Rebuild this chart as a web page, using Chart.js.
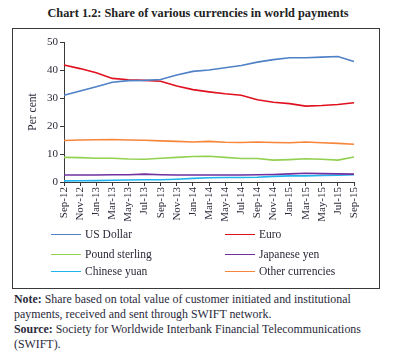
<!DOCTYPE html>
<html>
<head>
<meta charset="utf-8">
<script src="https://cdn.jsdelivr.net/npm/chart.js@4.4.1/dist/chart.umd.min.js"></script>
<style>
  html, body { margin:0; padding:0; background:#fff; }
  body { width:396px; height:355px; position:relative; overflow:hidden; font-family:"Liberation Serif", serif; color:#2a2a3a; }
  #title { position:absolute; top:6px; left:0; width:396px; text-align:center; font-weight:bold; font-size:12.3px; color:#222; }
  #frame { position:absolute; left:12px; top:28px; width:366px; height:259px; border:1.5px solid #3a3a3a; }
  #cv { position:absolute; left:0; top:0; }
  #legend { position:absolute; left:0; top:0; width:396px; height:0; }
  .li { position:absolute; font-size:11.5px; line-height:14px; white-space:nowrap; }
  .li span.sw { display:inline-block; width:30px; height:0; border-top:1.5px solid; vertical-align:middle; margin-right:4px; position:relative; top:-1px; }
  #notes { position:absolute; left:14px; top:292px; width:380px; font-size:11.9px; line-height:15px; color:#2a2a3a; }
</style>
</head>
<body>
<div id="title">Chart 1.2: Share of various currencies in world payments</div>
<div id="frame"></div>
<canvas id="cv" width="396" height="228"></canvas>
<div id="legend"></div>
<div id="notes"><b>Note:</b> Share based on total value of customer initiated and institutional payments, received and sent through SWIFT network.<br><b>Source:</b> Society for Worldwide Interbank Financial Telecommunications (SWIFT).</div>
<script>
const categories = ['Sep-12','Nov-12','Jan-13','Mar-13','May-13','Jul-13','Sep-13','Nov-13','Jan-14','Mar-14','May-14','Jul-14','Sep-14','Nov-14','Jan-15','Mar-15','May-15','Jul-15','Sep-15'];
const usDollar = [31.0,32.5,34.0,35.6,36.2,36.3,36.6,38.2,39.5,40.0,40.8,41.6,42.8,43.7,44.4,44.4,44.6,44.8,43.0];
const euro = [41.8,40.5,39.0,37.0,36.5,36.3,36.0,34.3,33.0,32.2,31.5,31.0,29.4,28.5,28.0,27.1,27.3,27.7,28.3];
const poundSterling = [8.8,8.7,8.5,8.5,8.2,8.1,8.5,8.8,9.1,9.2,8.8,8.4,8.4,7.8,8.0,8.3,8.1,7.8,8.9];
const japaneseYen = [2.5,2.5,2.5,2.6,2.6,2.8,2.6,2.5,2.5,2.5,2.5,2.5,2.6,2.7,2.9,3.1,3.0,2.9,2.8];
const chineseYuan = [0.4,0.45,0.5,0.6,0.7,0.8,0.8,1.0,1.3,1.5,1.6,1.6,1.7,2.0,2.2,2.2,2.3,2.4,2.6];
const otherCurrencies = [14.8,15.0,15.1,15.2,15.0,14.9,14.7,14.5,14.3,14.5,14.2,14.1,14.3,14.1,14.0,14.3,14.0,13.8,13.5];
const yTicks = [0,10,20,30,40,50];

const seriesNames = ['US Dollar','Euro','Pound sterling','Japanese yen','Chinese yuan','Other currencies'];
const seriesData = [usDollar, euro, poundSterling, japaneseYen, chineseYuan, otherCurrencies];
const seriesColors = ['#4f81c7','#e0101e','#92d050','#7030a0','#1fb4ee','#f7863a'];

const axisColor = '#3a3a3a';
const tickFont = { family: 'Liberation Serif', size: 11 };

new Chart(document.getElementById('cv'), {
  type: 'line',
  data: {
    labels: categories,
    datasets: seriesNames.map((n, i) => ({
      label: n, data: seriesData[i], borderColor: seriesColors[i], backgroundColor: seriesColors[i],
      borderWidth: 1.6, pointRadius: 0, tension: 0, fill: false
    }))
  },
  options: {
    responsive: false, animation: false,
    layout: { padding: { left: 26, right: 42, top: 42, bottom: 0 } },
    plugins: { legend: { display: false }, tooltip: { enabled: false } },
    scales: {
      x: {
        offset: false,
        grid: { display: true, drawOnChartArea: false, tickLength: 4, color: axisColor },
        border: { color: axisColor, width: 1 },
        ticks: { autoSkip: false, maxRotation: 90, minRotation: 90, color: '#2a2a3a', font: tickFont, padding: 1 },
        afterFit: s => { s.height = 228 - 182; }
      },
      y: {
        min: 0, max: 50,
        afterBuildTicks: s => { s.ticks = yTicks.map(v => ({ value: v })); },
        grid: { display: true, drawOnChartArea: false, tickLength: 4, color: axisColor },
        border: { color: axisColor, width: 1 },
        ticks: { color: '#2a2a3a', font: tickFont, padding: 2 },
        title: { display: true, text: 'Per cent', color: '#2a2a3a', font: { family: 'Liberation Serif', size: 11.5 }, padding: { top: 0, bottom: 2 } },
        afterFit: s => { s.width = 38; }
      }
    }
  }
});

const legend = document.getElementById('legend');
const legendPos = [[51,234],[225,234],[51,254],[225,254],[51,271],[225,271]];
seriesNames.forEach((n, i) => {
  const d = document.createElement('div');
  d.className = 'li';
  d.style.left = legendPos[i][0] + 'px';
  d.style.top = (legendPos[i][1] - 7) + 'px';
  d.innerHTML = '<span class="sw" style="border-color:' + seriesColors[i] + '"></span>' + n;
  legend.appendChild(d);
});
</script>
</body>
</html>
